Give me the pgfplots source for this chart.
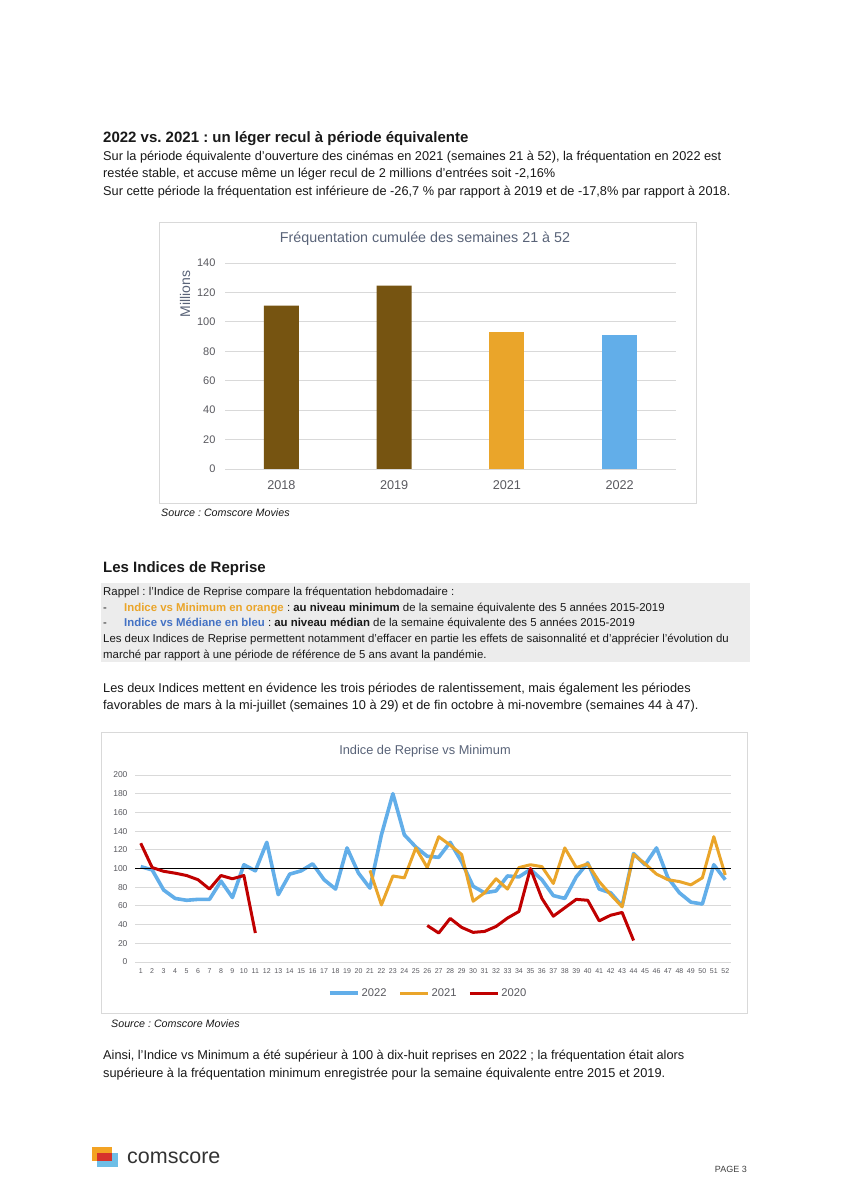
\documentclass[border=0pt]{standalone}
\usepackage{pgfplots}
\pgfplotsset{compat=1.18}
\usepackage{fontspec}
\setmainfont{Liberation Sans}
\frenchspacing
\definecolor{textcol}{RGB}{25,25,25}
\definecolor{brownbar}{RGB}{118,84,17}
\definecolor{orangeC}{RGB}{234,165,42}
\definecolor{blueC}{RGB}{98,174,233}
\definecolor{redC}{RGB}{192,0,0}
\definecolor{titlecol}{RGB}{89,99,120}
\definecolor{tickcol}{RGB}{89,89,95}
\definecolor{gridcol}{RGB}{217,217,217}
\definecolor{boxgrey}{RGB}{236,236,236}
\definecolor{bluetext}{RGB}{68,114,196}
\definecolor{logoorange}{RGB}{243,163,35}
\definecolor{logoblue}{RGB}{110,190,230}
\definecolor{logored}{RGB}{214,50,44}
\newcommand\fs[1]{\fontsize{#1}{#1}\selectfont}
\begin{document}
\begin{tikzpicture}
\fill[white] (0,0) rectangle (848pt,1200pt);
\useasboundingbox (0,0) rectangle (848pt,1200pt);
\begin{scope}[x=1pt,y=-1pt,yshift=1200pt]
% frames
\draw[gridcol, line width=0.8pt] (159,222) rectangle (696,503);
\draw[gridcol, line width=0.8pt] (101,732) rectangle (747,1013);
\fill[boxgrey] (101,583) rectangle (750,662);
% texts
\node[anchor=base west, inner sep=0, font=\fs{15}\bfseries, text=textcol] at (103,142.4) {2022 vs. 2021 : un léger recul à période équivalente};
\node[anchor=base west, inner sep=0, font=\fs{12.75}, text=textcol] at (103,160.5) {Sur la période équivalente d’ouverture des cinémas en 2021 (semaines 21 à 52), la fréquentation en 2022 est};
\node[anchor=base west, inner sep=0, font=\fs{12.75}, text=textcol] at (103,177.5) {restée stable, et accuse même un léger recul de 2 millions d’entrées soit -2,16\%};
\node[anchor=base west, inner sep=0, font=\fs{12.75}, text=textcol] at (103,195.5) {Sur cette période la fréquentation est inférieure de -26,7 \% par rapport à 2019 et de -17,8\% par rapport à 2018.};
\node[anchor=base, inner sep=0, font=\fs{14.3}, text=titlecol] at (425,243) {Fréquentation cumulée des semaines 21 à 52};
\node[anchor=base, inner sep=0, font=\fs{14}, text=titlecol, rotate=90] at (190,294) {Millions};
\node[anchor=base west, inner sep=0, font=\fs{10.7}\itshape, text=textcol] at (161,517) {Source : Comscore Movies};
\node[anchor=base west, inner sep=0, font=\fs{15}\bfseries, text=textcol] at (103,572.4) {Les Indices de Reprise};
\node[anchor=base west, inner sep=0, font=\fs{11.4}, text=textcol] at (103,596) {Rappel : l’Indice de Reprise compare la fréquentation hebdomadaire :};
\node[anchor=base west, inner sep=0, font=\fs{11.4}, text=textcol] at (103,611.5) {-};
\node[anchor=base west, inner sep=0, font=\fs{11.4}, text=textcol] at (124,611.5) {\textbf{\color{orangeC}Indice vs Minimum en orange} : \textbf{au niveau minimum} de la semaine équivalente des 5 années 2015-2019};
\node[anchor=base west, inner sep=0, font=\fs{11.4}, text=textcol] at (103,627) {-};
\node[anchor=base west, inner sep=0, font=\fs{11.4}, text=textcol] at (124,627) {\textbf{\color{bluetext}Indice vs Médiane en bleu} : \textbf{au niveau médian} de la semaine équivalente des 5 années 2015-2019};
\node[anchor=base west, inner sep=0, font=\fs{11.4}, text=textcol] at (103,643) {Les deux Indices de Reprise permettent notamment d’effacer en partie les effets de saisonnalité et d’apprécier l’évolution du};
\node[anchor=base west, inner sep=0, font=\fs{11.4}, text=textcol] at (103,659) {marché par rapport à une période de référence de 5 ans avant la pandémie.};
\node[anchor=base west, inner sep=0, font=\fs{12.75}, text=textcol] at (103,692.5) {Les deux Indices mettent en évidence les trois périodes de ralentissement, mais également les périodes};
\node[anchor=base west, inner sep=0, font=\fs{12.75}, text=textcol] at (103,709.5) {favorables de mars à la mi-juillet (semaines 10 à 29) et de fin octobre à mi-novembre (semaines 44 à 47).};
\node[anchor=base, inner sep=0, font=\fs{12.8}, text=titlecol] at (425,754.5) {Indice de Reprise vs Minimum};
\node[anchor=base west, inner sep=0, font=\fs{10.7}\itshape, text=textcol] at (111,1028) {Source : Comscore Movies};
\node[anchor=base west, inner sep=0, font=\fs{12.75}, text=textcol] at (103,1059.5) {Ainsi, l’Indice vs Minimum a été supérieur à 100 à dix-huit reprises en 2022 ; la fréquentation était alors};
\node[anchor=base west, inner sep=0, font=\fs{12.75}, text=textcol] at (103,1077.5) {supérieure à la fréquentation minimum enregistrée pour la semaine équivalente entre 2015 et 2019.};
% logo
\fill[logoorange] (92,1147) rectangle (112,1161);
\fill[logoblue] (97,1153) rectangle (118,1167);
\fill[logored] (97,1153) rectangle (112,1161);
\node[anchor=base west, inner sep=0, font=\fs{21.5}, text=black!80] at (127,1164) {comscore};
\node[anchor=base east, inner sep=0, font=\fs{9}, text=black!75] at (747,1172.5) {PAGE 3};
\end{scope}

% bar chart
\begin{axis}[
  at={(225pt,731pt)}, anchor=south west, scale only axis,
  width=451pt, height=206pt,
  xmin=-0.5, xmax=3.5, ymin=0, ymax=140,
  xtick={0,1,2,3}, xticklabels={2018,2019,2021,2022},
  ytick={0,20,...,140},
  ymajorgrids, major grid style={draw=gridcol, line width=0.9pt},
  axis line style={draw=none}, major tick length=0pt,
  tick label style={text=tickcol},
  /pgf/number format/assume math mode=true,
  yticklabel style={font=\fs{11}, xshift=-6pt},
  xticklabel style={font=\fs{12.7}, yshift=-8pt},
  ybar, bar width=35pt, bar shift=0pt,
  clip=false]
\addplot[fill=brownbar, draw=none] coordinates {(0,111) (1,124.6)};
\addplot[fill=orangeC, draw=none] coordinates {(2,93.2)};
\addplot[fill=blueC, draw=none] coordinates {(3,91.2)};
\end{axis}

% line chart
\begin{axis}[
  at={(135pt,238pt)}, anchor=south west, scale only axis,
  width=596pt, height=187pt,
  xmin=0.5, xmax=52.5, ymin=0, ymax=200,
  xtick={1,...,52}, ytick={0,20,...,200},
  ymajorgrids, major grid style={draw=gridcol, line width=0.8pt},
  axis line style={draw=none}, major tick length=0pt,
  tick label style={text=tickcol},
  /pgf/number format/assume math mode=true,
  yticklabel style={font=\fs{8.5}, xshift=-4pt},
  xticklabel style={font=\fs{7}, yshift=-3pt},
  unbounded coords=jump,
  legend style={at={(0.492,-0.166)}, anchor=center, draw=none, fill=none,
     font=\fs{11.2}, text=tickcol, legend columns=3,
     /tikz/every even column/.append style={column sep=10pt}},
  legend image code/.code={\draw[#1] (0pt,0pt) -- (28pt,0pt);},
  clip=false]
\addplot[blueC, line width=3.6pt, line join=round] coordinates {
(1,102) (2,98.5) (3,77) (4,68) (5,66) (6,67) (7,67) (8,86.5) (9,69) (10,104)
(11,97.5) (12,128) (13,72) (14,94) (15,97.5) (16,105) (17,88) (18,78) (19,122) (20,95)
(21,79) (22,136) (23,180) (24,136) (25,123) (26,113) (27,112) (28,128) (29,107) (30,81)
(31,74) (32,76) (33,92) (34,91) (35,99) (36,88) (37,71) (38,68) (39,91) (40,106)
(41,78) (42,74) (43,60) (44,116) (45,104) (46,122) (47,90) (48,74) (49,64) (50,62)
(51,104) (52,88)};
\addlegendentry{2022}
\addplot[orangeC, line width=3pt, line join=round] coordinates {
(21,98) (22,61) (23,92) (24,90) (25,122) (26,101) (27,134) (28,125) (29,115) (30,65)
(31,74) (32,89) (33,78) (34,101) (35,104) (36,102) (37,84) (38,122) (39,101) (40,105)
(41,86) (42,72) (43,59) (44,115) (45,105) (46,94) (47,88) (48,86) (49,82.5) (50,90)
(51,134) (52,93)};
\addlegendentry{2021}
\addplot[black, line width=1.1pt, forget plot] coordinates {(0.5,100) (52.5,100)};
\addplot[redC, line width=3pt, line join=round] coordinates {
(1,127) (2,101) (3,97) (4,95) (5,92.5) (6,88) (7,78) (8,92.5) (9,89) (10,92.5) (11,31)
(12,nan)
(26,39) (27,31) (28,46.6) (29,37) (30,31.7) (31,32.7) (32,38) (33,47) (34,54) (35,100)
(36,68) (37,49) (38,58) (39,67) (40,66) (41,44) (42,50) (43,53) (44,23)};
\addlegendentry{2020}
\end{axis}
\end{tikzpicture}
\end{document}
